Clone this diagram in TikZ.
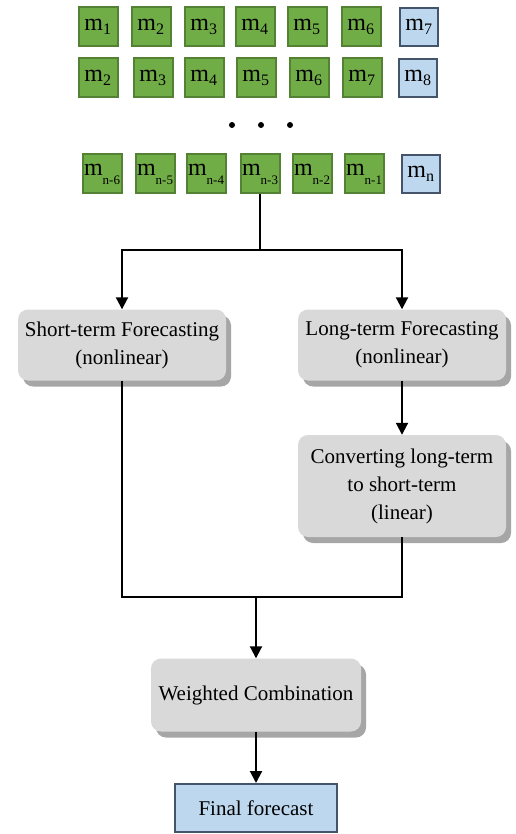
\documentclass[tikz,border=0pt]{standalone}
\usepackage{fontspec}
\setmainfont{Liberation Serif}
\usetikzlibrary{arrows.meta,shadows}
\definecolor{gfill}{HTML}{70AD47}
\definecolor{gdraw}{HTML}{548235}
\definecolor{bfill}{HTML}{BDD7EE}
\definecolor{bdraw}{HTML}{44546A}
\definecolor{pfill}{HTML}{D9D9D9}
\definecolor{pshadow}{HTML}{A6A6A6}
\newcommand{\msub}[1]{m$_{\mbox{\fontsize{16}{16}\selectfont #1}}$}
\newcommand{\mlow}[1]{m\raisebox{-9pt}{\fontsize{13}{13}\selectfont #1}}
\tikzset{
  gbox/.style={draw=gdraw, line width=2pt, fill=gfill, minimum width=39pt, minimum height=39pt, inner sep=0pt, font=\fontsize{24}{24}\selectfont},
  bbox/.style={draw=bdraw, line width=2pt, fill=bfill, minimum width=38pt, minimum height=38pt, inner sep=0pt, font=\fontsize{24}{24}\selectfont},
  pbox/.style={fill=pfill, rounded corners=10pt, minimum width=208pt, align=center, font=\fontsize{21}{28}\selectfont,
    drop shadow={shadow xshift=5pt, shadow yshift=-6pt, fill=pshadow, opacity=1}},
  conn/.style={line width=2pt},
  arr/.style={line width=2pt, -{Triangle[width=12pt,length=12pt]}},
  dotn/.style={circle, fill=black, inner sep=0pt, minimum size=6pt}
}
\begin{document}
\begin{tikzpicture}[x=1pt,y=-1pt]
\useasboundingbox (0,0) rectangle (515,834);
% row 1
\node[gbox] (a1) at (98,27) {\msub{1}};
\node[gbox] (a2) at (151,27) {\msub{2}};
\node[gbox] (a3) at (204,27) {\msub{3}};
\node[gbox] (a4) at (255,27) {\msub{4}};
\node[gbox] (a5) at (307,27) {\msub{5}};
\node[gbox] (a6) at (361,27) {\msub{6}};
\node[bbox] (a7) at (419,27) {\msub{7}};
% row 2
\node[gbox] (b1) at (98,78) {\msub{2}};
\node[gbox] (b2) at (153,78) {\msub{3}};
\node[gbox] (b3) at (204,78) {\msub{4}};
\node[gbox] (b4) at (256,78) {\msub{5}};
\node[gbox] (b5) at (309,78) {\msub{6}};
\node[gbox] (b6) at (362,78) {\msub{7}};
\node[bbox] (b7) at (418,78) {\msub{8}};
% dots
\node[dotn] (d1) at (232,125) {};
\node[dotn] (d2) at (261,125) {};
\node[dotn] (d3) at (290,125) {};
% row 3
\node[gbox] (c1) at (102,174) {\mlow{n-6}};
\node[gbox] (c2) at (155,174) {\mlow{n-5}};
\node[gbox] (c3) at (206,174) {\mlow{n-4}};
\node[gbox] (c4) at (260,174) {\mlow{n-3}};
\node[gbox] (c5) at (312,174) {\mlow{n-2}};
\node[gbox] (c6) at (364,174) {\mlow{n-1}};
\node[bbox] (c7) at (421,174) {\msub{n}};
% process boxes
\node[pbox, minimum height=71pt] (st) at (122,345) {Short-term Forecasting\\(nonlinear)};
\node[pbox, minimum height=71pt] (lt) at (402,345) {Long-term Forecasting\\(nonlinear)};
\node[pbox, minimum height=102pt] (cv) at (402,486) {Converting long-term\\to short-term\\(linear)};
\node[pbox, minimum height=73pt, minimum width=210pt] (wc) at (256,695) {Weighted Combination};
\node[draw=bdraw, line width=2pt, fill=bfill, minimum width=162pt, minimum height=48pt, font=\fontsize{21}{24}\selectfont] (ff) at (256,808) {Final forecast};
% connectors
\coordinate (j1) at (260,250);
\coordinate (j1l) at (122,250);
\coordinate (j1r) at (402,250);
\draw[conn] (c4.south) -- (j1);
\draw[arr] (j1) -- (j1l) -- (st.north);
\draw[arr] (j1) -- (j1r) -- (lt.north);
\draw[arr] (lt.south) -- (cv.north);
\coordinate (j2l) at (122,597);
\coordinate (j2r) at (402,597);
\coordinate (j2) at (256,597);
\draw[conn] (st.south) -- (j2l) -- (j2r) -- (cv.south);
\draw[arr] (j2) -- (wc.north);
\draw[arr] (wc.south) -- (ff.north);
\end{tikzpicture}
\end{document}
